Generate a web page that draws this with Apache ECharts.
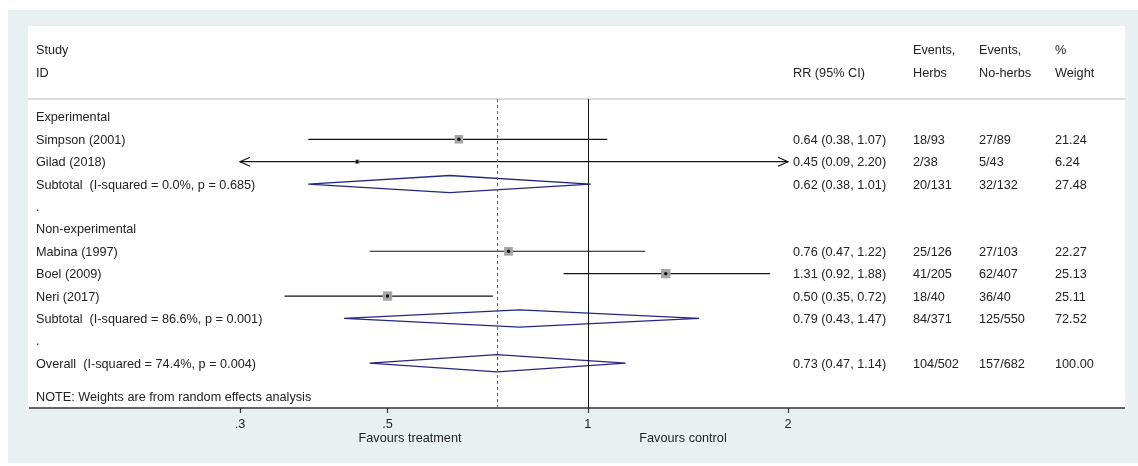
<!DOCTYPE html>
<html><head><meta charset="utf-8">
<script src="https://cdn.jsdelivr.net/npm/echarts@6/dist/echarts.min.js"></script>
<style>html,body{margin:0;padding:0;background:#fff}#main{width:1138px;height:466px}</style>
</head><body><div id="main"></div>
<script>
// ---------------- data ----------------
const studyLabels = ["Experimental", "Simpson (2001)", "Gilad (2018)", "Subtotal  (I-squared = 0.0%, p = 0.685)", ".",
  "Non-experimental", "Mabina (1997)", "Boel (2009)", "Neri (2017)", "Subtotal  (I-squared = 86.6%, p = 0.001)", ".",
  "Overall  (I-squared = 74.4%, p = 0.004)"];
const rowKind = ["group", "study", "study", "pooled", "blank", "group", "study", "study", "study", "pooled", "blank", "pooled"];
const rr = [null, 0.64, 0.45, 0.62, null, null, 0.76, 1.31, 0.50, 0.79, null, 0.73];
const ciLow = [null, 0.38, 0.09, 0.38, null, null, 0.47, 0.92, 0.35, 0.43, null, 0.47];
const ciHigh = [null, 1.07, 2.20, 1.01, null, null, 1.22, 1.88, 0.72, 1.47, null, 1.14];
const eventsHerbs = ["", "18/93", "2/38", "20/131", "", "", "25/126", "41/205", "18/40", "84/371", "", "104/502"];
const eventsNoHerbs = ["", "27/89", "5/43", "32/132", "", "", "27/103", "62/407", "36/40", "125/550", "", "157/682"];
const weightPct = [null, 21.24, 6.24, 27.48, null, null, 22.27, 25.13, 25.11, 72.52, null, 100.00];
const headerTop = ["Study", "", "Events,", "Events,", "%"];
const headerBottom = ["ID", "RR (95% CI)", "Herbs", "No-herbs", "Weight"];
const noteText = "NOTE: Weights are from random effects analysis";
const xTickValues = [0.3, 0.5, 1, 2];
const xTickLabels = [".3", ".5", "1", "2"];
const favoursLabels = ["Favours treatment", "Favours control"];
const nullEffect = 1;
const overallRR = 0.73;

// ---------------- layout / style ----------------
const X_MIN = 0.3, X_MAX = 2;
const FONT = '"Liberation Sans", Arial, sans-serif';
const FS = 12.7;
const TXT = '#222';
const colX = [36, 793, 913, 979, 1055];
const NAVY = '#262680';
const TY = 1; // small text baseline nudge

const ciText = rr.map((v, i) => v == null ? "" : v.toFixed(2) + " (" + ciLow[i].toFixed(2) + ", " + ciHigh[i].toFixed(2) + ")");
const weightText = weightPct.map(w => w == null ? "" : w.toFixed(2));

const forestData = [];
rr.forEach((v, i) => {
  if (v != null) forestData.push([v, i, ciLow[i], ciHigh[i], weightPct[i], rowKind[i] === 'study' ? 1 : 2]);
});

// table rows: header rows at -3, -2, body rows 0..11, note at 12.5
const tableData = [];
tableData.push([1, -3, 0]);
tableData.push([1, -2, 1]);
studyLabels.forEach((s, i) => tableData.push([1, i, 2]));
tableData.push([1, 12.5, 3]);

function txt(x, y, s) {
  return { type: 'text', style: { x: x, y: y + TY, text: s, fill: TXT, font: FS + 'px ' + FONT, textAlign: 'left', textVerticalAlign: 'middle' } };
}

function renderTable(params, api) {
  const row = api.value(1), kind = api.value(2);
  const y = api.coord([1, row])[1];
  const ch = [];
  if (kind === 0) {
    headerTop.forEach((s, k) => { if (s) ch.push(txt(colX[k], y, s)); });
  } else if (kind === 1) {
    headerBottom.forEach((s, k) => { if (s) ch.push(txt(colX[k], y, s)); });
  } else if (kind === 2) {
    const i = row;
    ch.push(txt(colX[0], y, studyLabels[i]));
    if (ciText[i]) ch.push(txt(colX[1], y, ciText[i]));
    if (eventsHerbs[i]) ch.push(txt(colX[2], y, eventsHerbs[i]));
    if (eventsNoHerbs[i]) ch.push(txt(colX[3], y, eventsNoHerbs[i]));
    if (weightText[i]) ch.push(txt(colX[4], y, weightText[i]));
  } else {
    ch.push(txt(colX[0], y, noteText));
  }
  return { type: 'group', children: ch };
}

function renderForest(params, api) {
  const v = api.value(0), row = api.value(1), lo = api.value(2), hi = api.value(3), w = api.value(4), kind = api.value(5);
  const p = api.coord([v, row]);
  const y = p[1];
  const xl = api.coord([Math.max(lo, X_MIN), row])[0];
  const xh = api.coord([Math.min(hi, X_MAX), row])[0];
  const ch = [];
  if (kind === 1) {
    ch.push({ type: 'line', shape: { x1: xl, y1: y, x2: xh, y2: y }, style: { stroke: '#111', lineWidth: 1.2 } });
    if (lo < X_MIN) ch.push({ type: 'polyline', shape: { points: [[xl + 10, y - 4.5], [xl, y], [xl + 10, y + 4.5]] }, style: { stroke: '#111', lineWidth: 1.2, fill: null } });
    if (hi > X_MAX) ch.push({ type: 'polyline', shape: { points: [[xh - 10, y - 4.5], [xh, y], [xh - 10, y + 4.5]] }, style: { stroke: '#111', lineWidth: 1.2, fill: null } });
    const s = 1.85 * Math.sqrt(w);
    ch.push({ type: 'rect', shape: { x: p[0] - s / 2, y: y - s / 2, width: s, height: s }, style: { fill: '#a4a4a4' } });
    ch.push({ type: 'circle', shape: { cx: p[0], cy: y, r: 1.7 }, style: { fill: '#111' } });
  } else {
    const h = 8.6;
    ch.push({ type: 'polygon', shape: { points: [[xl, y], [p[0], y - h], [xh, y], [p[0], y + h]] }, style: { fill: '#fff', stroke: NAVY, lineWidth: 1.3 } });
  }
  return { type: 'group', children: ch };
}

function tickLabel(v) {
  let best = 0, bd = Infinity;
  xTickValues.forEach((t, k) => {
    const d = Math.min(Math.abs(v - t), Math.abs(Math.pow(10, v) - t));
    if (d < bd) { bd = d; best = k; }
  });
  return xTickLabels[best];
}

const chart = echarts.init(document.getElementById('main'), null, { renderer: 'canvas' });
chart.setOption({
  animation: false,
  backgroundColor: '#ffffff',
  grid: { left: 240, right: 350, top: 99, height: 309 },
  xAxis: {
    type: 'log', logBase: 10, min: X_MIN, max: X_MAX,
    axisLine: { show: false, onZero: false },
    splitLine: { show: false },
    axisTick: { show: true, customValues: xTickValues, length: 5, lineStyle: { color: '#333', width: 1.2 } },
    axisLabel: { customValues: xTickValues, formatter: tickLabel, margin: 10, color: TXT, fontSize: FS, fontFamily: FONT }
  },
  yAxis: { type: 'value', inverse: true, min: -0.8, max: 13, show: false },
  graphic: [
    { type: 'rect', z: -10, shape: { x: 8, y: 10, width: 1130, height: 453 }, style: { fill: '#e8f0f2' } },
    { type: 'rect', z: -9, shape: { x: 28, y: 26, width: 1097, height: 382 }, style: { fill: '#ffffff' } },
    { type: 'line', z: 5, shape: { x1: 28, y1: 99, x2: 1125, y2: 99 }, style: { stroke: '#b8b8b8', lineWidth: 1 } },
    { type: 'line', z: 5, shape: { x1: 29, y1: 408, x2: 1125, y2: 408 }, style: { stroke: '#333', lineWidth: 1.5 } },
    { type: 'text', z: 5, style: { x: 410, y: 438, text: favoursLabels[0], fill: TXT, font: FS + 'px ' + FONT, textAlign: 'center', textVerticalAlign: 'middle' } },
    { type: 'text', z: 5, style: { x: 683, y: 438, text: favoursLabels[1], fill: TXT, font: FS + 'px ' + FONT, textAlign: 'center', textVerticalAlign: 'middle' } }
  ],
  series: [
    {
      type: 'custom', name: 'table', coordinateSystem: 'cartesian2d', clip: false, silent: true,
      encode: { x: 0, y: 1 }, data: tableData, renderItem: renderTable, z: 3
    },
    {
      type: 'custom', name: 'forest', coordinateSystem: 'cartesian2d', clip: false, silent: true,
      encode: { x: 0, y: 1 }, data: forestData, renderItem: renderForest, z: 4,
      markLine: {
        silent: true, symbol: 'none', label: { show: false },
        data: [
          { xAxis: nullEffect, lineStyle: { color: '#111', width: 1, type: 'solid' } },
          { xAxis: overallRR, lineStyle: { color: '#c0392b', width: 1, type: [3, 3] } }
        ]
      }
    }
  ]
});
</script>
</body></html>
